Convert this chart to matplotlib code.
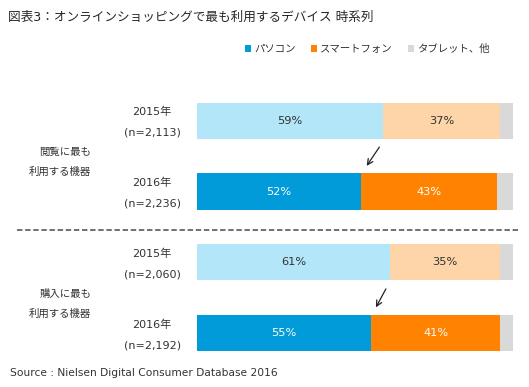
import numpy as np
import matplotlib
matplotlib.use("Agg")
import matplotlib.pyplot as plt
from matplotlib.patches import Patch

plt.rcParams['font.family'] = ['DejaVu Sans', 'Noto Sans CJK JP']

###############################################################################
# Data
years = ['2015年', '2016年', '2015年', '2016年']
counts = ['(n=2,113)', '(n=2,236)', '(n=2,060)', '(n=2,192)']
groups = ['閲覧に最も\n利用する機器', '購入に最も\n利用する機器']
series = ['パソコン', 'スマートフォン', 'タブレット、他']
pc = [59, 52, 61, 55]
phone = [37, 43, 35, 41]
other = [4, 5, 4, 4]

# colours: 2015 rows pale, 2016 rows strong
light = ['#B4E6FA', '#FDD5A8', '#D9D9D9']
dark = ['#009BD8', '#FF8200', '#D9D9D9']

###############################################################################
W, H = 529, 387
fig = plt.figure(figsize=(W / 100, H / 100), dpi=100)
ax = fig.add_axes([197 / W, 1 - 368.6 / H, 316 / W, 283.3 / H])
ax.set_xlim(0, 100)
ax.set_ylim(3.5, -0.5)
ax.axis('off')

rows = np.arange(len(pc))
left = np.zeros(len(pc))
for k, vals in enumerate([pc, phone, other]):
    cols = [light[k] if i % 2 == 0 else dark[k] for i in rows]
    ax.barh(rows, vals, left=left, height=0.51, color=cols, edgecolor='none')
    if k < 2:
        for i in rows:
            tc = '#333333' if i % 2 == 0 else 'white'
            ax.text(left[i] + vals[i] / 2, i, '%d%%' % vals[i], ha='center',
                    va='center', fontsize=8.2, color=tc)
    left = left + np.array(vals)

# arrows from 2015 boundary to 2016 boundary
for i in [0, 2]:
    ax.annotate('', xy=(pc[i + 1] + 1.2, i + 0.67), xytext=(pc[i] - 0.8, i + 0.34),
                arrowprops=dict(arrowstyle='->', color='#222222', lw=0.9),
                annotation_clip=False)

# row labels
for i in rows:
    ax.text(-14.2, i - 0.12, years[i], ha='center', va='center', fontsize=8,
            color='#333333', clip_on=False)
    ax.text(-14.2, i + 0.17, counts[i], ha='center', va='center', fontsize=8,
            color='#333333', clip_on=False)

# group labels
for g, name in enumerate(groups):
    top, bottom = name.split('\n')
    ax.text(-33.5, 2 * g + 0.44, top, ha='right', va='center', fontsize=7.5,
            color='#333333', clip_on=False)
    ax.text(-33.5, 2 * g + 0.72, bottom, ha='right', va='center', fontsize=7.5,
            color='#333333', clip_on=False)

# separator
ax.plot([-57, 101.6], [1.54, 1.54], color='#666666', lw=1.3,
        linestyle=(0, (3, 1.5)), clip_on=False)

###############################################################################
fig.text(8 / W, 1 - 17 / H, '図表3：オンラインショッピングで最も利用するデバイス 時系列',
         fontsize=9.1, va='center', color='#262626')

handles = [Patch(facecolor=c, edgecolor='none') for c in dark]
fig.legend(handles, series, loc='center left', bbox_to_anchor=(245 / W, 1 - 49 / H),
           ncol=3, frameon=False, handlelength=0.6, handleheight=0.6,
           handletextpad=0.3, columnspacing=1.45, fontsize=7.5,
           labelcolor='#333333', borderaxespad=0, borderpad=0)

fig.text(10 / W, 1 - 373 / H, 'Source : Nielsen Digital Consumer Database 2016',
         fontsize=7.7, va='center', color='#333333')

fig.savefig('out.png', dpi=100)
